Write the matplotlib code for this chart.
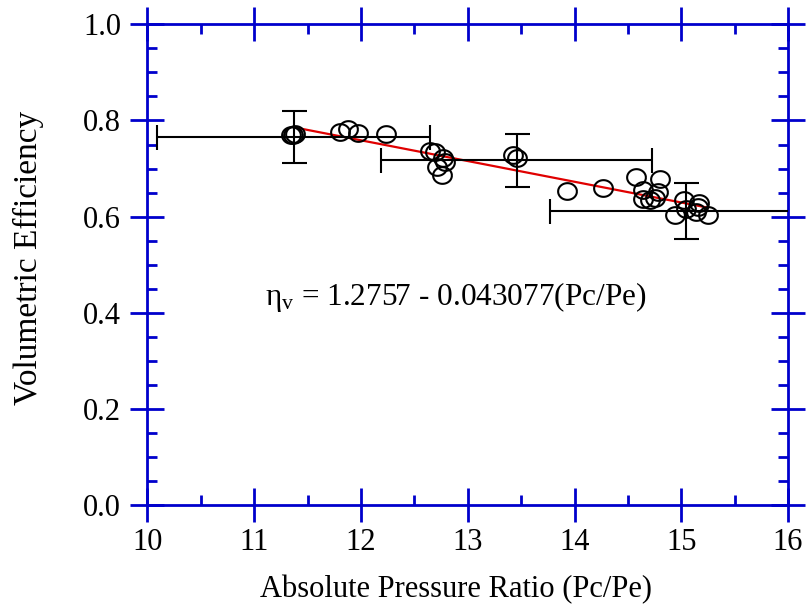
import numpy as np
import matplotlib
matplotlib.use('Agg')
import matplotlib.pyplot as plt
from matplotlib.path import Path
from matplotlib.ticker import MultipleLocator

# measured points (pressure ratio, volumetric efficiency)
pr = [11.34, 11.36, 11.38, 11.80, 11.88, 11.97, 12.23, 12.645, 12.69, 12.77,
      12.71, 12.755, 12.785, 13.425, 13.457, 13.925, 14.27, 14.574, 14.80, 14.64,
      14.78, 14.64, 14.705, 14.75, 15.03, 15.17, 14.94, 15.04, 15.14, 15.25, 15.16]
eff = [0.770, 0.770, 0.771, 0.777, 0.782, 0.775, 0.771, 0.737, 0.735, 0.721,
       0.703, 0.687, 0.714, 0.728, 0.721, 0.654, 0.660, 0.683, 0.678, 0.656,
       0.652, 0.636, 0.635, 0.638, 0.635, 0.629, 0.604, 0.615, 0.610, 0.604, 0.621]

# uncertainty bars
eb_x = [11.37, 13.46, 15.04]
eb_y = [0.766, 0.717, 0.612]
eb_xerr = [1.28, 1.27, 1.27]
eb_yerr = [0.054, 0.055, 0.058]

# linear fit
fit_a = 1.2757
fit_b = 0.043077

plt.rcParams['font.family'] = ['Liberation Serif', 'DejaVu Serif']
plt.rcParams['mathtext.default'] = 'regular'

blue = '#0000cc'

fig = plt.figure(figsize=(8.06, 6.06), dpi=100)
ax = fig.add_axes([0.183, 0.166, 0.7947, 0.794])

fx = np.array([11.42, max(pr)])
ax.plot(fx, fit_a - fit_b * fx, color='#e00000', lw=1.6, zorder=2)

ax.errorbar(eb_x, eb_y, xerr=eb_xerr, yerr=eb_yerr, fmt='none', ecolor='black',
            elinewidth=1.5, capsize=9, capthick=1.5, zorder=3)

t = np.linspace(0, 2 * np.pi, 60)
ell = Path(np.column_stack([np.cos(t), 0.89 * np.sin(t)]))
ax.plot(pr, eff, linestyle='none', marker=ell, markersize=13.5,
        markerfacecolor='none', markeredgecolor='black', markeredgewidth=1.5, zorder=4)

ax.text(11.1, 0.4164, r'η$_{v}$ = 1.2757 - 0.043077(Pc/Pe)', fontsize=22.5, va='baseline')

ax.set_xlim(10, 16)
ax.set_ylim(0, 1.0)
ax.xaxis.set_major_locator(MultipleLocator(1))
ax.xaxis.set_minor_locator(MultipleLocator(0.5))
ax.yaxis.set_major_locator(MultipleLocator(0.2))
ax.yaxis.set_minor_locator(MultipleLocator(0.05))
ax.yaxis.set_major_formatter(plt.FormatStrFormatter('%.1f'))

for s in ax.spines.values():
    s.set_color(blue)
    s.set_linewidth(2)

ax.tick_params(which='both', top=True, right=True, color=blue, width=2, labelsize=22)
ax.tick_params(which='major', direction='inout', length=24)
ax.tick_params(axis='x', which='major', pad=4)
ax.tick_params(axis='y', which='major', pad=7)
ax.tick_params(which='minor', direction='in', length=7)

ax.set_xlabel('Absolute Pressure Ratio (Pc/Pe)', fontsize=22)
ax.set_ylabel('Volumetric Efficiency', fontsize=24)
ax.xaxis.set_label_coords(0.482, -0.145)
ax.yaxis.set_label_coords(-0.162, 0.515)

fig.savefig('out.png', dpi=100)
